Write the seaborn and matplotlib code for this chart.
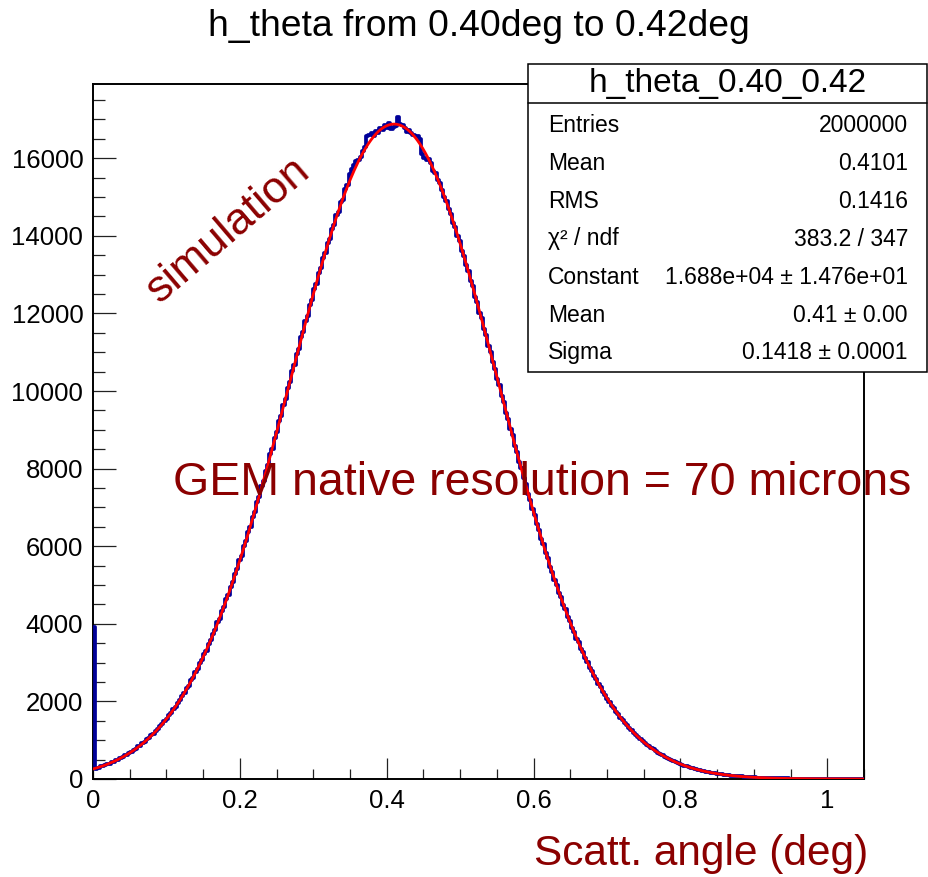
import numpy as np
import pandas as pd
import matplotlib
matplotlib.use("Agg")
import matplotlib.pyplot as plt
from matplotlib.ticker import MultipleLocator, FuncFormatter
from matplotlib.patches import Rectangle
from matplotlib.lines import Line2D
import seaborn as sns

# ---------------- data ----------------
title = "h_theta from 0.40deg to 0.42deg"
hist_name = "h_theta_0.40_0.42"
x_min, x_max, n_bins = 0.0, 1.05, 350

counts = [
    3930, 270, 296, 330, 331, 352, 390, 398, 436, 447,
    488, 499, 548, 560, 610, 622, 680, 696, 751, 775,
    838, 859, 925, 955, 1030, 1052, 1131, 1160, 1248, 1281,
    1370, 1408, 1507, 1552, 1650, 1696, 1805, 1859, 1970, 2028,
    2148, 2210, 2340, 2405, 2545, 2610, 2760, 2831, 2990, 3066,
    3230, 3310, 3485, 3571, 3750, 3845, 4035, 4128, 4330, 4430,
    4640, 4742, 4960, 5070, 5295, 5410, 5640, 5760, 6000, 6125,
    6370, 6500, 6750, 6885, 7140, 7280, 7545, 7685, 7950, 8095,
    8370, 8510, 8790, 8935, 9220, 9365, 9650, 9795, 10085, 10230,
    10520, 10660, 10950, 11090, 11380, 11515, 11805, 11940, 12225, 12355,
    12640, 12760, 13045, 13160, 13440, 13545, 13815, 13915, 14180, 14270,
    14530, 14610, 14860, 14930, 15210, 15300, 15590, 15720, 15830, 15920,
    15950, 16020, 16180, 16300, 16560, 16610, 16640, 16580, 16700, 16660,
    16780, 16720, 16850, 16790, 16900, 16760, 16800, 16830, 17060, 16880,
    16860, 16770, 16680, 16720, 16640, 16610, 16560, 16580, 16490, 16120,
    16010, 15960, 15990, 15870, 15680, 15620, 15430, 15360, 15190, 14990,
    14900, 14680, 14570, 14330, 14230, 13990, 13870, 13610, 13490, 13240,
    13100, 12830, 12700, 12430, 12290, 12010, 11870, 11590, 11440, 11170,
    11010, 10740, 10580, 10300, 10150, 9870, 9710, 9440, 9280, 9010,
    8860, 8590, 8430, 8170, 8010, 7760, 7600, 7350, 7200, 6955,
    6810, 6570, 6425, 6190, 6055, 5825, 5690, 5475, 5345, 5130,
    5005, 4800, 4685, 4485, 4375, 4180, 4075, 3893, 3790, 3618,
    3520, 3355, 3265, 3107, 3020, 2872, 2790, 2650, 2572, 2441,
    2368, 2245, 2176, 2060, 1995, 1887, 1827, 1725, 1669, 1575,
    1522, 1434, 1387, 1305, 1260, 1185, 1143, 1074, 1035, 971,
    935, 878, 845, 791, 761, 712, 683, 639, 612, 573,
    549, 513, 491, 458, 438, 409, 390, 364, 347, 323,
    308, 286, 273, 254, 241, 225, 213, 198, 188, 174,
    165, 153, 146, 135, 128, 118, 112, 103, 98, 90,
    86, 78, 75, 68, 65, 59, 56, 51, 49, 44,
    43, 38, 37, 32, 31, 28, 27, 24, 23, 21,
    20, 18, 16, 15, 14, 13, 12, 11, 10, 9,
    9, 8, 7, 7, 6, 6, 5, 5, 4, 4,
    4, 3, 3, 3, 3, 2, 2, 2, 2, 2,
    2, 1, 1, 1, 1, 1, 1, 1, 1, 1,
]

# Gaussian fit parameters (from the stats box)
fit_constant = 1.688e4
fit_mean = 0.41
fit_sigma = 0.1418

stat_labels = ["Entries", "Mean", "RMS", "χ² / ndf", "Constant", "Mean", "Sigma"]
stat_values = ["2000000", "0.4101", "0.1416", "383.2 / 347",
               "1.688e+04 ± 1.476e+01", "0.41 ± 0.00", "0.1418 ± 0.0001"]

# ---------------- style ----------------
sns.set_style("ticks")
plt.rcParams["font.family"] = ["Liberation Sans", "DejaVu Sans"]

W, H = 929, 877
fig = plt.figure(figsize=(W / 100, H / 100), dpi=100)
fig.patch.set_facecolor("white")

def fx(px):
    return px / W

def fy(py):
    return 1 - py / H

ax = fig.add_axes([fx(93), fy(779), fx(864) - fx(93), fy(84) - fy(779)])

edges = np.linspace(x_min, x_max, n_bins + 1)
centers = 0.5 * (edges[:-1] + edges[1:])
df = pd.DataFrame({"theta": centers, "count": counts})

sns.histplot(data=df, x="theta", weights="count", bins=list(edges), element="step",
             fill=False, color="#000099", linewidth=2.7, ax=ax, zorder=3)

xf = np.linspace(x_min, x_max, 600)
yf = fit_constant * np.exp(-0.5 * ((xf - fit_mean) / fit_sigma) ** 2)
sns.lineplot(x=xf, y=yf, color="#ff0000", linewidth=2.0, ax=ax, zorder=4)

ax.set_xlim(x_min, x_max)
ax.set_ylim(0, 1.05 * max(counts))
ax.set_xlabel("")
ax.set_ylabel("")

ax.xaxis.set_major_locator(MultipleLocator(0.2))
ax.xaxis.set_minor_locator(MultipleLocator(0.05))
ax.yaxis.set_major_locator(MultipleLocator(2000))
ax.yaxis.set_minor_locator(MultipleLocator(500))
ax.xaxis.set_major_formatter(FuncFormatter(lambda v, p: "{:g}".format(round(v, 3))))
ax.yaxis.set_major_formatter(FuncFormatter(lambda v, p: "{:g}".format(v)))

ax.tick_params(axis="both", which="both", direction="in", top=False, right=False,
               color="#222222", width=0.9, labelsize=18.5, labelcolor="black")
ax.tick_params(axis="x", which="major", length=15, pad=7)
ax.tick_params(axis="x", which="minor", length=7.5)
ax.tick_params(axis="y", which="major", length=16.5, pad=7)
ax.tick_params(axis="y", which="minor", length=8.5)
for s in ax.spines.values():
    s.set_visible(True)
    s.set_linewidth(1.4)
    s.set_color("black")

# title
fig.text(fx(478.5), fy(36.5), title, ha="center", va="baseline", fontsize=26.8,
         color="black")

# annotations
dark_red = "#8b0000"
fig.text(fx(160), fy(304), "simulation", rotation=40.5, rotation_mode="anchor",
         ha="left", va="baseline", fontsize=32, color=dark_red, zorder=10)
fig.text(fx(173), fy(495), "GEM native resolution = 70 microns", ha="left",
         va="baseline", fontsize=33.5, color=dark_red, zorder=10)
fig.text(fx(868), fy(865), "Scatt. angle (deg)", ha="right", va="baseline",
         fontsize=30.5, color=dark_red, zorder=10)

# stats box
bx0, bx1, by0, by1 = 528, 927.5, 64, 372
fig.add_artist(Rectangle((fx(bx0), fy(by1)), fx(bx1) - fx(bx0), fy(by0) - fy(by1),
                         transform=fig.transFigure, facecolor="white",
                         edgecolor="black", linewidth=1.1, zorder=8))
fig.add_artist(Line2D([fx(bx0), fx(bx1)], [fy(103), fy(103)],
                      transform=fig.transFigure, color="black", linewidth=1.1,
                      zorder=9))
fig.text(fx((bx0 + bx1) / 2), fy(92), hist_name, ha="center", va="baseline",
         fontsize=24, color="black", zorder=10)
row_baselines = [132, 170, 208, 245.5, 284, 322, 359]
for lab, val, yb in zip(stat_labels, stat_values, row_baselines):
    fig.text(fx(548), fy(yb), lab, ha="left", va="baseline", fontsize=16.5,
             color="black", zorder=10)
    fig.text(fx(908), fy(yb), val, ha="right", va="baseline", fontsize=16.5,
             color="black", zorder=10)

fig.savefig("out.png", dpi=100, facecolor="white")
